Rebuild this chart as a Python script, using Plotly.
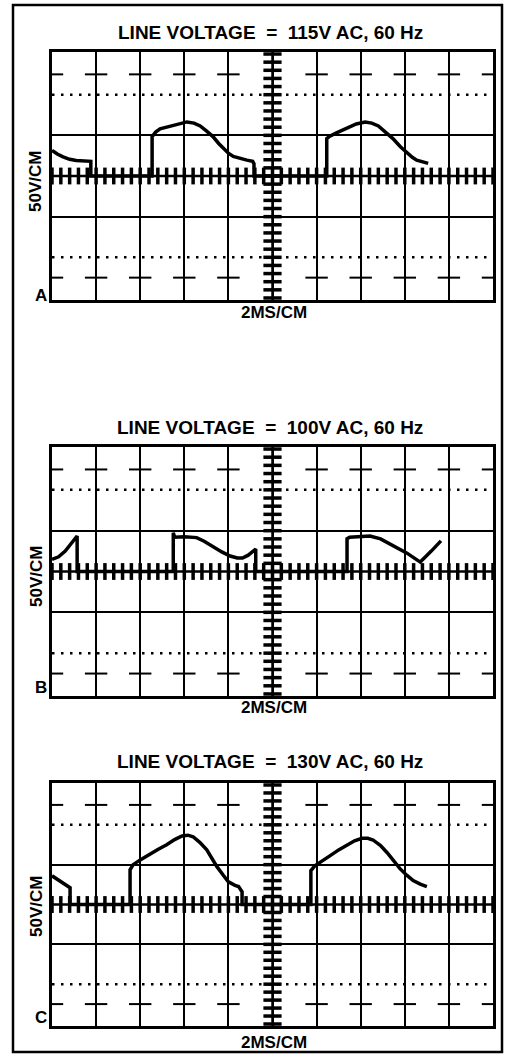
import plotly.graph_objects as go

W, H = 509, 1054

# ---------------- data ----------------
titles = ["LINE VOLTAGE\u00a0\u00a0=\u00a0\u00a0115V AC, 60 Hz",
          "LINE VOLTAGE\u00a0\u00a0=\u00a0\u00a0100V AC, 60 Hz",
          "LINE VOLTAGE\u00a0\u00a0=\u00a0\u00a0130V AC, 60 Hz"]
panel_letters = ["A", "B", "C"]
y_label = "50V/CM"
x_label = "2MS/CM"

# time in divisions (2 ms/div), voltage in divisions
a_t = [-5.0, -4.88, -4.75, -4.6, -4.45, -4.2, -4.12, -4.12,
       -2.73, -2.73, -2.65, -2.55, -2.42, -2.32, -2.15, -1.94, -1.78, -1.64, -1.5, -1.35,
       -1.22, -1.12, -1.0, -0.89, -0.72, -0.58, -0.45, -0.42, -0.42,
       1.23, 1.23, 1.3, 1.45, 1.69, 1.9, 2.1, 2.25, 2.4, 2.57, 2.73, 2.9, 3.05, 3.17,
       3.27, 3.4, 3.53]
a_v = [0.63, 0.54, 0.47, 0.41, 0.38, 0.36, 0.36, 0.0,
       0.0, 0.97, 1.08, 1.16, 1.2, 1.23, 1.28, 1.33, 1.3, 1.23, 1.11, 0.97,
       0.8, 0.68, 0.56, 0.48, 0.42, 0.39, 0.36, 0.3, 0.0,
       0.0, 0.92, 0.98, 1.06, 1.19, 1.28, 1.33, 1.3, 1.23, 1.08, 0.92, 0.72, 0.56, 0.46,
       0.39, 0.34, 0.31]

b_t = [-5.0, -4.85, -4.7, -4.55, -4.43, -4.43,
       -2.25, -2.25, -2.22, -2.0, -1.85, -1.72, -1.55, -1.35, -1.15, -0.96, -0.8, -0.68,
       -0.55, -0.38, -0.38,
       1.69, 1.69, 1.75, 1.98, 2.21, 2.45, 2.66, 2.86, 3.05, 3.2, 3.35, 3.6, 3.82]
b_v = [0.3, 0.36, 0.5, 0.7, 0.87, 0.0,
       0.0, 0.95, 0.84, 0.85, 0.85, 0.83, 0.74, 0.6, 0.48, 0.38, 0.33, 0.33,
       0.4, 0.55, 0.0,
       0.0, 0.8, 0.84, 0.86, 0.87, 0.8, 0.68, 0.56, 0.45, 0.34, 0.23, 0.5, 0.75]

c_t = [-5.0, -4.88, -4.77, -4.65, -4.59, -4.59,
       -3.23, -3.23, -3.16, -3.0, -2.78, -2.6, -2.4, -2.22, -2.05, -1.92, -1.8, -1.65,
       -1.49, -1.37, -1.26, -1.12, -1.0, -0.85, -0.77, -0.69, -0.69,
       0.87, 0.87, 0.96, 1.12, 1.3, 1.5, 1.69, 1.86, 2.03, 2.16, 2.28, 2.45, 2.6, 2.75,
       2.89, 3.05, 3.19, 3.35, 3.5]
c_v = [0.72, 0.63, 0.55, 0.45, 0.42, 0.0,
       0.0, 0.87, 1.0, 1.12, 1.25, 1.38, 1.5, 1.63, 1.72, 1.74, 1.7, 1.56,
       1.37, 1.15, 0.95, 0.74, 0.57, 0.48, 0.45, 0.32, 0.0,
       0.0, 0.85, 0.97, 1.08, 1.22, 1.37, 1.5, 1.6, 1.66, 1.66, 1.62, 1.48, 1.3, 1.1,
       0.9, 0.73, 0.6, 0.51, 0.45]

traces_t = [a_t, b_t, c_t]
traces_v = [a_v, b_v, c_v]

# graticule definition (divisions)
x_div = list(range(-5, 6))
cross_x = [-5, -4, -3, -2, -1, 1, 2, 3, 4, 5]
minor_step = 0.2
x_minor = [round(-5 + i * minor_step, 2) for i in range(51)]
y_minor = [round(-3 + i * minor_step, 2) for i in range(31)]

# ---------------- layout geometry (pixels) ----------------
grid_left, grid_right = 52, 493
panel_tops = [52, 447, 783]
panel_bots = [300, 696, 1026]
title_y = [33, 428, 762]
xlab_y = [313, 707, 1042]
ylab_y = [182, 577, 907]
letter_y = [295, 687, 1017]


def px(x):
    return x / W


def py(y):
    return 1 - y / H


fig = go.Figure()
layout = dict(width=W, height=H, margin=dict(l=0, r=0, t=0, b=0),
              paper_bgcolor="white", plot_bgcolor="white", showlegend=False)
shapes = []
annotations = []
FONT = "Liberation Sans"
TXT = dict(family=FONT, size=17, color="black", weight="bold")
TTL = dict(family=FONT, size=19, color="black", weight="bold")

for i in range(3):
    sfx = "" if i == 0 else str(i + 1)
    xa, ya = "x" + sfx, "y" + sfx
    layout["xaxis" + sfx] = dict(domain=[px(grid_left), px(grid_right)], range=[-5, 5],
                                 anchor=ya, showgrid=True, gridcolor="black", gridwidth=2,
                                 tickvals=x_div, showticklabels=False, ticks="",
                                 zeroline=False, showline=True, linecolor="black",
                                 linewidth=2.5, mirror=True, fixedrange=True)
    layout["yaxis" + sfx] = dict(domain=[py(panel_bots[i]), py(panel_tops[i])],
                                 range=[-3.05, 3.05], anchor=xa, showgrid=True,
                                 gridcolor="black", gridwidth=1.6, tickvals=[-1, 1],
                                 showticklabels=False, ticks="", zeroline=False,
                                 showline=True, linecolor="black", linewidth=2.5,
                                 mirror=True, fixedrange=True)
    # centre axes
    fig.add_trace(go.Scatter(x=[-5, 5], y=[0, 0], mode="lines", xaxis=xa, yaxis=ya,
                             line=dict(color="black", width=2.5), hoverinfo="skip"))
    fig.add_trace(go.Scatter(x=[0, 0], y=[-3.05, 3.05], mode="lines", xaxis=xa, yaxis=ya,
                             line=dict(color="black", width=2.5), hoverinfo="skip"))
    fig.add_trace(go.Scatter(x=x_minor, y=[0] * len(x_minor), mode="markers", xaxis=xa,
                             yaxis=ya, hoverinfo="skip",
                             marker=dict(symbol="line-ns", size=12,
                                         line=dict(color="black", width=3.5))))
    fig.add_trace(go.Scatter(x=[0] * len(y_minor), y=y_minor, mode="markers", xaxis=xa,
                             yaxis=ya, hoverinfo="skip",
                             marker=dict(symbol="line-ew", size=13,
                                         line=dict(color="black", width=3.5))))
    # crosses at +/-2.5
    for yy in (2.5, -2.5):
        fig.add_trace(go.Scatter(x=cross_x, y=[yy] * len(cross_x), mode="markers",
                                 xaxis=xa, yaxis=ya, hoverinfo="skip",
                                 marker=dict(symbol="line-ew", size=16,
                                             line=dict(color="black", width=2))))
    # dotted lines at +/-2
    for yy in (2, -2):
        shapes.append(dict(type="line", xref=xa, yref=ya, x0=-5, x1=5, y0=yy, y1=yy,
                           line=dict(color="black", width=2.5, dash="2.5px,6.5px")))
    # waveform
    fig.add_trace(go.Scatter(x=traces_t[i], y=traces_v[i], mode="lines", xaxis=xa,
                             yaxis=ya, hoverinfo="skip",
                             line=dict(color="black", width=3.5)))
    # texts
    annotations.append(dict(text=titles[i], xref="paper", yref="paper", x=px(270),
                            y=py(title_y[i]), showarrow=False, xanchor="center",
                            yanchor="middle", font=TTL))
    annotations.append(dict(text=x_label, xref="paper", yref="paper", x=px(274),
                            y=py(xlab_y[i]), showarrow=False, xanchor="center",
                            yanchor="middle", font=TXT))
    annotations.append(dict(text=y_label, xref="paper", yref="paper", x=px(36),
                            y=py(ylab_y[i]), showarrow=False, xanchor="center",
                            yanchor="middle", textangle=-90, font=TXT))
    annotations.append(dict(text=panel_letters[i], xref="paper", yref="paper", x=px(41),
                            y=py(letter_y[i]), showarrow=False, xanchor="center",
                            yanchor="middle", font=TXT))

# outer frame
shapes.append(dict(type="rect", xref="paper", yref="paper", x0=px(13), x1=px(502),
                   y0=py(1052), y1=py(5), line=dict(color="black", width=2.5)))

layout["shapes"] = shapes
layout["annotations"] = annotations
fig.update_layout(**layout)
fig.write_html("out.html", config={"displayModeBar": False},
               post_script="document.body.style.margin='0';document.body.style.overflow='hidden';")
